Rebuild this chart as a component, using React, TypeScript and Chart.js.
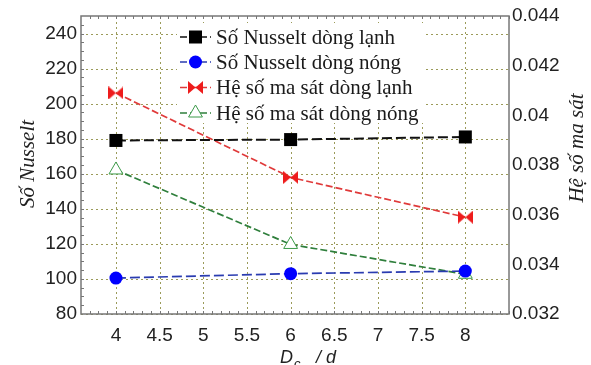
import React, { useEffect, useRef } from 'react';
import { Chart, registerables } from 'chart.js';
import { drawPoint } from 'chart.js/helpers';

Chart.register(...registerables);

// ---- data ----
const dcRatio = [4, 6, 8];
const nusseltCold = [179, 179.5, 181];
const nusseltHot = [100.5, 103, 104.5];
const frictionCold = [0.0409, 0.0375, 0.0359];
const frictionHot = [0.0378, 0.0348, 0.0336];
const seriesLabels = [
  'Số Nusselt dòng lạnh',
  'Số Nusselt dòng nóng',
  'Hệ số ma sát dòng lạnh',
  'Hệ số ma sát dòng nóng',
];
const xTicks = [4, 4.5, 5, 5.5, 6, 6.5, 7, 7.5, 8];
const leftTicks = [80, 100, 120, 140, 160, 180, 200, 220, 240];
const rightTicks = [0.032, 0.034, 0.036, 0.038, 0.04, 0.042, 0.044];
const rightTickLabels = ['0.032', '0.034', '0.036', '0.038', '0.04', '0.042', '0.044'];
const leftTitle = 'Số Nusselt';
const rightTitle = 'Hệ số ma sát';

const SANS = '"Liberation Sans", Arial, sans-serif';
const SERIF = '"Liberation Serif", "Times New Roman", serif';
const GRID = 'rgba(150,150,80,0.95)';
const FRAME = '#777';

function makeBowtie(color: string, w: number, h: number) {
  const c = document.createElement('canvas');
  c.width = w;
  c.height = h;
  const g = c.getContext('2d')!;
  g.fillStyle = color;
  g.beginPath();
  g.moveTo(0, 0);
  g.lineTo(w / 2, h / 2);
  g.lineTo(0, h);
  g.closePath();
  g.fill();
  g.beginPath();
  g.moveTo(w, 0);
  g.lineTo(w / 2, h / 2);
  g.lineTo(w, h);
  g.closePath();
  g.fill();
  return c;
}

export default function App() {
  const ref = useRef<HTMLCanvasElement | null>(null);

  useEffect(() => {
    const canvas = ref.current;
    if (!canvas) return;
    const bowtie = makeBowtie('#ee1c1c', 15, 13);

    const toPts = (ys: number[]) => dcRatio.map((x, i) => ({ x, y: ys[i] }));

    const datasets: any[] = [
      {
        label: seriesLabels[0],
        data: toPts(nusseltCold),
        yAxisID: 'y',
        borderColor: '#111',
        borderWidth: 2,
        borderDash: [10, 4],
        pointStyle: 'rect',
        pointRadius: 9.2,
        pointBackgroundColor: '#000',
        pointBorderColor: '#000',
        pointBorderWidth: 0,
      },
      {
        label: seriesLabels[1],
        data: toPts(nusseltHot),
        yAxisID: 'y',
        borderColor: '#2a3cb0',
        borderWidth: 1.7,
        borderDash: [10, 4],
        pointStyle: 'circle',
        pointRadius: 6.5,
        pointBackgroundColor: '#0000ff',
        pointBorderColor: '#0000ff',
        pointBorderWidth: 0,
      },
      {
        label: seriesLabels[2],
        data: toPts(frictionCold),
        yAxisID: 'y2',
        borderColor: '#e03a3a',
        borderWidth: 1.7,
        borderDash: [7, 3],
        pointStyle: bowtie,
        pointRadius: 7,
      },
      {
        label: seriesLabels[3],
        data: toPts(frictionHot),
        yAxisID: 'y2',
        borderColor: '#2f7f3c',
        borderWidth: 1.7,
        borderDash: [7, 3],
        pointStyle: 'triangle',
        pointRadius: 8,
        pointBackgroundColor: '#ffffff',
        pointBorderColor: '#3c9a4a',
        pointBorderWidth: 1,
      },
    ];

    const decor = {
      id: 'decor',
      beforeDatasetsDraw(chart: any) {
        const { ctx, chartArea: a, scales } = chart;
        const xs = scales.x;
        const ys = scales.y;
        ctx.save();
        // dotted grid
        ctx.strokeStyle = GRID;
        ctx.lineWidth = 1;
        ctx.setLineDash([2, 3]);
        xTicks.forEach((v) => {
          const px = Math.round(xs.getPixelForValue(v)) + 0.5;
          ctx.beginPath();
          ctx.moveTo(px, a.bottom);
          ctx.lineTo(px, a.top);
          ctx.stroke();
        });
        leftTicks.forEach((v) => {
          const py = Math.round(ys.getPixelForValue(v)) + 0.5;
          ctx.beginPath();
          ctx.moveTo(a.left, py);
          ctx.lineTo(a.right, py);
          ctx.stroke();
        });
        ctx.setLineDash([]);
        // minor ticks (inward)
        ctx.strokeStyle = FRAME;
        ctx.lineWidth = 1;
        for (let v = 3.7; v < 8.5; v += 0.1) {
          const px = Math.round(xs.getPixelForValue(v)) + 0.5;
          ctx.beginPath();
          ctx.moveTo(px, a.bottom);
          ctx.lineTo(px, a.bottom - 3);
          ctx.moveTo(px, a.top);
          ctx.lineTo(px, a.top + 3);
          ctx.stroke();
        }
        for (let v = 85; v < 250; v += 5) {
          const py = Math.round(ys.getPixelForValue(v)) + 0.5;
          ctx.beginPath();
          ctx.moveTo(a.left, py);
          ctx.lineTo(a.left + 3, py);
          ctx.stroke();
        }
        // frame
        ctx.strokeStyle = FRAME;
        ctx.lineWidth = 1.5;
        ctx.strokeRect(a.left, a.top, a.right - a.left, a.bottom - a.top);
        // legend box background
        ctx.fillStyle = '#ffffff';
        ctx.fillRect(177, 23, 246, 100);
        ctx.restore();
      },
      afterDraw(chart: any) {
        const { ctx } = chart;
        ctx.save();
        // legend entries
        const rowY = [37, 62, 87.5, 113];
        chart.data.datasets.forEach((ds: any, i: number) => {
          const y = rowY[i];
          ctx.save();
          ctx.strokeStyle = ds.borderColor;
          ctx.lineWidth = 1.6;
          ctx.setLineDash([7, 3]);
          ctx.beginPath();
          ctx.moveTo(180, y);
          ctx.lineTo(211, y);
          ctx.stroke();
          ctx.setLineDash([]);
          ctx.fillStyle = ds.pointBackgroundColor || '#ee1c1c';
          ctx.strokeStyle = ds.pointBorderColor || ds.borderColor;
          ctx.lineWidth = ds.pointBorderWidth || 0;
          drawPoint(
            ctx,
            {
              pointStyle: ds.pointStyle,
              radius: ds.pointRadius,
              rotation: 0,
              borderWidth: ds.pointBorderWidth || 0,
            } as any,
            195.5,
            y
          );
          ctx.restore();
          ctx.fillStyle = '#1a1a1a';
          ctx.font = `21px ${SERIF}`;
          ctx.textAlign = 'left';
          ctx.textBaseline = 'middle';
          ctx.fillText(ds.label, 216, y + 1);
        });

        // axis titles
        ctx.fillStyle = '#222';
        ctx.font = `italic 21px ${SERIF}`;
        ctx.textAlign = 'center';
        ctx.textBaseline = 'middle';
        ctx.save();
        ctx.translate(28, 164);
        ctx.rotate(-Math.PI / 2);
        ctx.fillText(leftTitle, 0, 0);
        ctx.restore();
        ctx.save();
        ctx.translate(577, 148);
        ctx.rotate(-Math.PI / 2);
        ctx.fillText(rightTitle, 0, 0);
        ctx.restore();

        // x title: D_c / d
        ctx.textAlign = 'left';
        ctx.textBaseline = 'alphabetic';
        ctx.font = `italic 18px ${SANS}`;
        ctx.fillText('D', 280, 363);
        ctx.font = `italic 13px ${SANS}`;
        ctx.fillText('c', 294, 368);
        ctx.font = `italic 18px ${SANS}`;
        ctx.fillText('/ d', 316, 363);
        ctx.restore();
      },
    };

    const tickFont = { family: SANS, size: 19 };

    const chart = new Chart(canvas, {
      type: 'line',
      data: { datasets },
      options: {
        animation: false,
        responsive: false,
        layout: { padding: { top: 16, left: 0, right: 0, bottom: 0 } },
        plugins: { legend: { display: false }, tooltip: { enabled: false } },
        elements: { line: { tension: 0 } },
        scales: {
          x: {
            type: 'linear',
            position: 'bottom',
            min: 3.6,
            max: 8.5,
            afterBuildTicks: (s: any) => {
              s.ticks = xTicks.map((v) => ({ value: v }));
            },
            afterFit: (s: any) => {
              s.height = 51;
            },
            ticks: {
              font: tickFont,
              color: '#222',
              padding: 10,
              maxRotation: 0,
              autoSkip: false,
              callback: (v: any) => String(v),
            },
            grid: { display: false, drawTicks: false },
            border: { display: false },
          },
          y: {
            type: 'linear',
            position: 'left',
            min: 80,
            max: 250,
            afterBuildTicks: (s: any) => {
              s.ticks = leftTicks.map((v) => ({ value: v }));
            },
            afterFit: (s: any) => {
              s.width = 81;
            },
            ticks: {
              font: tickFont,
              color: '#222',
              padding: 4,
              autoSkip: false,
              callback: (v: any) => String(v),
            },
            grid: { display: false, drawTicks: false },
            border: { display: false },
          },
          y2: {
            type: 'linear',
            position: 'right',
            min: 0.032,
            max: 0.044,
            afterBuildTicks: (s: any) => {
              s.ticks = rightTicks.map((v) => ({ value: v }));
            },
            afterFit: (s: any) => {
              s.width = 82;
            },
            ticks: {
              font: tickFont,
              color: '#222',
              padding: 3,
              autoSkip: false,
              callback: (_v: any, i: number) => rightTickLabels[i],
            },
            grid: { display: false, drawTicks: false },
            border: { display: false },
          },
        },
      },
      plugins: [decor],
    } as any);

    return () => chart.destroy();
  }, []);

  return (
    <div
      style={{
        position: 'fixed',
        left: 0,
        top: 0,
        width: 591,
        height: 365,
        background: '#fff',
      }}
    >
      <canvas ref={ref} width={591} height={365} style={{ width: 591, height: 365, display: 'block' }} />
    </div>
  );
}
